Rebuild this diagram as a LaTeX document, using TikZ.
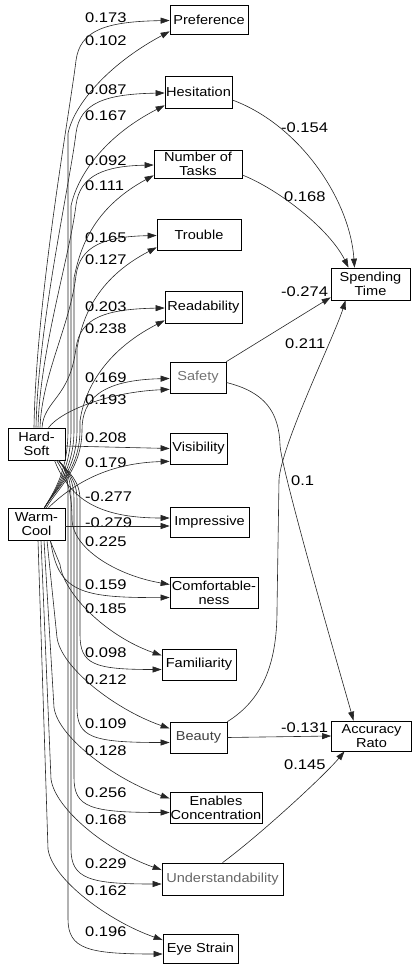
\documentclass[tikz,border=0pt]{standalone}
\usepackage{fontspec}
\setmainfont{Liberation Sans}[FakeStretch=1.12]
\newfontfamily\labfont{Liberation Sans}[FakeStretch=1.18]
\usetikzlibrary{arrows.meta}
\tikzset{
 box/.style={draw=black, line width=0.7pt, inner sep=0pt, align=center, font=\fontsize{13}{14}\selectfont, text=black},
 edge/.style={draw=black!85, line width=0.6pt, -{Triangle[length=9pt,width=6pt]}},
 lab/.style={anchor=west, inner sep=0pt, font=\labfont\fontsize{14}{14}\selectfont},
}
\begin{document}
\begin{tikzpicture}[x=1pt,y=-1pt]
\useasboundingbox (0,0) rectangle (412,965);
% nodes
\node[box, minimum width=78pt, minimum height=29pt] (pref) at (209,19.5) {Preference};
\node[box, minimum width=67pt, minimum height=32pt] (hes) at (198.5,92) {Hesitation};
\node[box, minimum width=88pt, minimum height=28pt] (tasks) at (198,164) {Number of\\Tasks};
\node[box, minimum width=84pt, minimum height=31pt] (trouble) at (199,234.5) {Trouble};
\node[box, minimum width=77pt, minimum height=32pt] (read) at (203.5,307) {Readability};
\node[box, minimum width=56pt, minimum height=31pt, text=black!55] (safety) at (198,377.5) {Safety};
\node[box, minimum width=57pt, minimum height=31pt] (vis) at (198.5,448.5) {Visibility};
\node[box, minimum width=79pt, minimum height=30pt] (impr) at (209.5,522) {Impressive};
\node[box, minimum width=88pt, minimum height=31pt] (comf) at (214,592.5) {Comfortable-\\ness};
\node[box, minimum width=74pt, minimum height=31pt] (fam) at (199,664.5) {Familiarity};
\node[box, minimum width=57pt, minimum height=31pt, text=black!75] (beauty) at (198.5,737.5) {Beauty};
\node[box, minimum width=92pt, minimum height=31pt] (conc) at (216,807.5) {Enables\\Concentration};
\node[box, minimum width=121pt, minimum height=32pt, text=black!60] (und) at (222.5,879) {Understandability};
\node[box, minimum width=75pt, minimum height=29pt] (eye) at (200.5,949) {Eye Strain};
\node[box, minimum width=57pt, minimum height=32pt] (hs) at (36.5,444) {Hard-\\Soft};
\node[box, minimum width=57pt, minimum height=32pt] (wc) at (36.5,524) {Warm-\\Cool};
\node[box, minimum width=79pt, minimum height=32pt] (spend) at (370.5,284) {Spending\\Time};
\node[box, minimum width=80pt, minimum height=30pt] (acc) at (371.5,736) {Accuracy\\Rato};
% left labels
\node[lab] (a1) at (85,18) {0.173};
\node[lab] (a2) at (85,41) {0.102};
\node[lab] (a3) at (85,90) {0.087};
\node[lab] (a4) at (85,116) {0.167};
\node[lab] (a5) at (85,161) {0.092};
\node[lab] (a6) at (85,186) {0.111};
\node[lab] (a7) at (85,238) {0.165};
\node[lab] (a8) at (85,260) {0.127};
\node[lab] (a9) at (85,307) {0.203};
\node[lab] (a10) at (85,329) {0.238};
\node[lab] (a11) at (85,378) {0.169};
\node[lab] (a12) at (85,400) {0.193};
\node[lab] (a13) at (85,438) {0.208};
\node[lab] (a14) at (85,463) {0.179};
\node[lab] (b1) at (85,497) {-0.277};
\node[lab] (b2) at (85,523) {-0.279};
\node[lab] (b3) at (85,542) {0.225};
\node[lab] (b4) at (85,585) {0.159};
\node[lab] (b5) at (85,609) {0.185};
\node[lab] (b6) at (85,653) {0.098};
\node[lab] (b7) at (85,680) {0.212};
\node[lab] (b8) at (85,724) {0.109};
\node[lab] (b9) at (85,751) {0.128};
\node[lab] (b10) at (85,793) {0.256};
\node[lab] (b11) at (85,820) {0.168};
\node[lab] (b12) at (85,864) {0.229};
\node[lab] (b13) at (85,891) {0.162};
\node[lab] (b14) at (85,932) {0.196};
% right labels
\node[lab] (r1) at (281,128) {-0.154};
\node[lab] (r2) at (284,197) {0.168};
\node[lab] (r3) at (281,292) {-0.274};
\node[lab] (r4) at (285,344) {0.211};
\node[lab] (r5) at (291,481) {0.1};
\node[lab] (r6) at (281,728) {-0.131};
\node[lab] (r7) at (284,765) {0.145};
% ---- Hard-Soft to upper targets (top arrows)
\draw[edge] ([xshift=-2.5pt]hs.north) .. controls (36,299) and (70,110.5) .. (76,60.5) .. controls (80,30.5) and (105,21.5) .. ([yshift=-1pt]pref.west);
\draw[edge] ([xshift=-0.5pt]hs.north) .. controls (38,325) and (70,183) .. (76,133) .. controls (80,103) and (105,94) .. ([yshift=-1pt]hes.west);
\draw[edge] ([xshift=1.5pt]hs.north) .. controls (40,350) and (70,255) .. (76,205) .. controls (80,175) and (105,166) .. ([yshift=-1pt]tasks.west);
\draw[edge] ([xshift=3.5pt]hs.north) .. controls (42,374.6) and (70,325.5) .. (76,275.5) .. controls (80,245.5) and (105,236.5) .. ([yshift=-1pt]trouble.west);
\draw[edge] ([xshift=5.5pt]hs.north) .. controls (44,400) and (70,398) .. (76,348) .. controls (80,318) and (105,309) .. ([yshift=-1pt]read.west);
% ---- Warm-Cool to upper targets (lower arrows)
\draw[edge] ([xshift=8pt]wc.north) .. controls (55,490) and (68,470) .. (68,430) -- (68,133.5) .. controls (74,104.5) and (108,64.5) .. ([yshift=3pt]pref.south west);
\draw[edge] ([xshift=8pt]wc.north) .. controls (55,490) and (71,470) .. (71,430) -- (71,206) .. controls (77,177) and (103,137) .. ([yshift=3pt]hes.south west);
\draw[edge] ([xshift=8pt]wc.north) .. controls (55,490) and (74,470) .. (74,430) -- (74,278) .. controls (80,249) and (92,209) .. ([yshift=3pt]tasks.south west);
\draw[edge] ([xshift=8pt]wc.north) .. controls (55,490) and (77,470) .. (77,430) -- (77,348.5) .. controls (82,319.5) and (95,279.5) .. ([yshift=3pt]trouble.south west);
\draw[edge] ([xshift=8pt]wc.north) .. controls (55,490) and (80,470) .. (80,430) -- (80,421) .. controls (84,392) and (103,352) .. ([yshift=3pt]read.south west);
% ---- Safety, Visibility
\draw[edge] ([xshift=10pt]wc.north) .. controls (56,490) and (82,470) .. (82,430) .. controls (82,400) and (100,380) .. ([yshift=-1pt]safety.west);
\draw[edge] ([xshift=12pt]hs.north) .. controls (62,410) and (110,392) .. ([yshift=4pt]safety.south west);
\draw[edge] ([yshift=-2pt]hs.east) -- (vis.west);
\draw[edge] ([xshift=12pt]wc.north) .. controls (75,482) and (110,463) .. ([yshift=3pt]vis.south west);
% ---- Impressive, Comfortableness
\draw[edge] ([xshift=18pt]hs.south) .. controls (70,500) and (100,518) .. ([yshift=4pt]impr.west);
\draw[edge] ([yshift=-2pt]wc.east) -- ([yshift=-4pt]impr.west);
\draw[edge] ([xshift=20pt]hs.south) .. controls (68,478) and (72,495) .. (72,520) .. controls (73,548) and (115,575) .. ([yshift=8pt]comf.west);
\draw[edge] ([xshift=14pt]wc.south) .. controls (58,592) and (80,598) .. ([yshift=-5pt]comf.west);
% ---- Warm-Cool to lower targets (upper arrows)
\draw[edge] ([xshift=13.5pt]wc.south) -- (60,564.5) .. controls (64,594.5) and (107,636.5) .. ([yshift=9pt]fam.west);
\draw[edge] ([xshift=10.5pt]wc.south) -- (57,637.5) .. controls (61,667.5) and (115,709.5) .. ([yshift=9pt]beauty.west);
\draw[edge] ([xshift=7.5pt]wc.south) -- (54,707.5) .. controls (58,737.5) and (115,779.5) .. ([yshift=9pt]conc.west);
\draw[edge] ([xshift=4.5pt]wc.south) -- (51,779) .. controls (55,809) and (107,851) .. ([yshift=9pt]und.west);
\draw[edge] ([xshift=1.5pt]wc.south) -- (48,849) .. controls (52,879) and (108,921) .. ([yshift=9pt]eye.west);
% ---- Hard-Soft to lower targets (lower arrows)
\draw[edge] ([xshift=22pt]hs.south) .. controls (68,472) and (80,480) .. (80,500) -- (80,634.5) .. controls (80,664.5) and (94,669.5) .. ([yshift=-5pt]fam.west);
\draw[edge] ([xshift=22pt]hs.south) .. controls (68,472) and (77,480) .. (77,500) -- (77,707.5) .. controls (77,737.5) and (92,742.5) .. ([yshift=-5pt]beauty.west);
\draw[edge] ([xshift=22pt]hs.south) .. controls (68,472) and (74,480) .. (74,500) -- (74,777.5) .. controls (74,807.5) and (90,812.5) .. ([yshift=-5pt]conc.west);
\draw[edge] ([xshift=22pt]hs.south) .. controls (68,472) and (71,480) .. (71,500) -- (71,849) .. controls (71,879) and (90,884) .. ([yshift=-5pt]und.west);
\draw[edge] ([xshift=22pt]hs.south) .. controls (68,472) and (68,480) .. (68,500) -- (68,919) .. controls (68,949) and (88,954) .. ([yshift=-5pt]eye.west);
% ---- right side
\draw[edge] ([yshift=-8pt]hes.east) .. controls (300,125) and (350,200) .. ([xshift=-16pt]spend.north);
\draw[edge] ([yshift=-11pt]tasks.east) .. controls (280,190) and (330,230) .. ([xshift=-22pt]spend.north);
\draw[edge] (safety.north east) -- ([yshift=3pt]spend.south west);
\draw[edge] (beauty.north east) .. controls (262,700) and (277,665) .. (277,610) -- (279,480) .. controls (281,445) and (335,335) .. ([xshift=-25pt]spend.south);
\draw[edge] ([yshift=-5pt]safety.east) .. controls (265,392) and (279,412) .. (280,445) .. controls (281,470) and (345,690) .. ([xshift=-18pt]acc.north);
\draw[edge] (beauty.east) -- (acc.west);
\draw[edge] (und.north) .. controls (260,835) and (325,775) .. ([xshift=-27pt]acc.south);
\end{tikzpicture}
\end{document}
